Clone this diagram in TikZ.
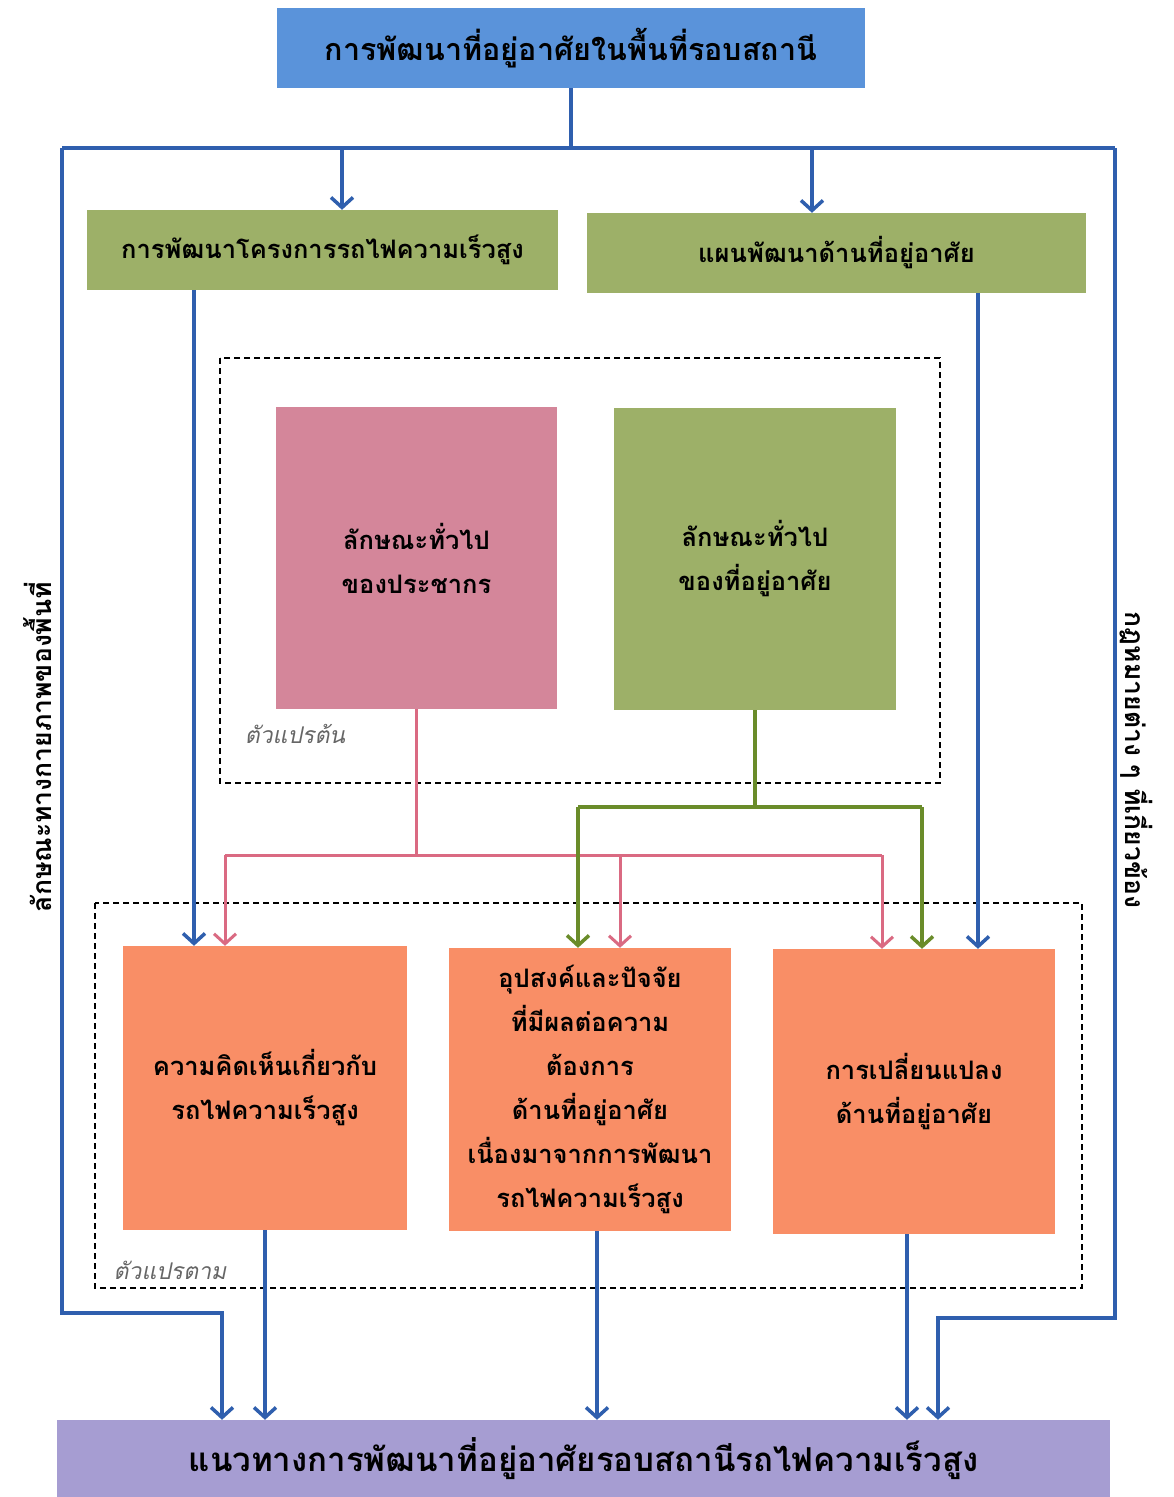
\documentclass[tikz,border=0pt]{standalone}
\usepackage{fontspec}
\usetikzlibrary{arrows.meta}
\newfontfamily\thai[Script=Thai,AutoFakeSlant=0.2]{Loma}
\definecolor{cblue}{HTML}{5A93DA}
\definecolor{cgreen}{HTML}{9DB068}
\definecolor{cpink}{HTML}{D4869A}
\definecolor{corange}{HTML}{F98E66}
\definecolor{cpurple}{HTML}{A69DD2}
\definecolor{lblue}{HTML}{2F5FAE}
\definecolor{lpink}{HTML}{DA6A82}
\definecolor{lgreen}{HTML}{6A8C2A}
\begin{document}
\begin{tikzpicture}[x=1pt,y=-1pt,
  box/.style={inner sep=0pt, align=center, text=black, font=\thai\bfseries\fontsize{25.5}{44}\selectfont},
  tip/.style={-{Straight Barb[length=10pt 0,width=22pt 0]}},
  bl/.style={draw=lblue, line width=3.5pt},
  pl/.style={draw=lpink, line width=3pt},
  gln/.style={draw=lgreen, line width=3.5pt},
  dbox/.style={draw=black, line width=1.8pt, dash pattern=on 6pt off 4pt},
  vlabel/.style={font=\thai\itshape\fontsize{23}{26}\selectfont, text=black!60},
  side/.style={font=\thai\bfseries\fontsize{26.5}{30}\selectfont, text=black}]
\useasboundingbox (0,0) rectangle (1174,1497);
\fill[white] (0,0) rectangle (1174,1497);

% dashed containers
\draw[dbox] (220,358) rectangle (940,783);
\draw[dbox] (95,903) rectangle (1082,1288);

% nodes
\node[box, fill=cblue, minimum width=588pt, minimum height=80pt, font=\thai\bfseries\fontsize{30.5}{34}\selectfont] (top) at (571,48) {การพัฒนาที่อยู่อาศัยในพื้นที่รอบสถานี};
\node[box, fill=cgreen, minimum width=471pt, minimum height=80pt] (gl) at (322.5,250) {การพัฒนาโครงการรถไฟความเร็วสูง};
\node[box, fill=cgreen, minimum width=499pt, minimum height=80pt] (gr) at (836.5,253) {แผนพัฒนาด้านที่อยู่อาศัย};
\node[box, fill=cpink, minimum width=281pt, minimum height=302pt] (pk) at (416.5,558) {ลักษณะทั่วไป\\ของประชากร};
\node[box, fill=cgreen, minimum width=282pt, minimum height=302pt] (g2) at (755,559) {ลักษณะทั่วไป\\ของที่อยู่อาศัย};
\node[box, fill=corange, minimum width=284pt, minimum height=284pt] (o1) at (265,1088) {ความคิดเห็นเกี่ยวกับ\\รถไฟความเร็วสูง};
\node[box, fill=corange, minimum width=282pt, minimum height=283pt] (o2) at (590,1089.5) {อุปสงค์และปัจจัย\\ที่มีผลต่อความ\\ต้องการ\\ด้านที่อยู่อาศัย\\เนื่องมาจากการพัฒนา\\รถไฟความเร็วสูง};
\node[box, fill=corange, minimum width=282pt, minimum height=285pt] (o3) at (914,1091.5) {การเปลี่ยนแปลง\\ด้านที่อยู่อาศัย};
\node[box, fill=cpurple, minimum width=1053pt, minimum height=78pt, font=\thai\bfseries\fontsize{33}{36}\selectfont] (bot) at (583.5,1459) {แนวทางการพัฒนาที่อยู่อาศัยรอบสถานีรถไฟความเร็วสูง};

\node[vlabel] (lt1) at (295,734) {ตัวแปรต้น};
\node[vlabel] (lt2) at (170,1270) {ตัวแปรตาม};
\node[side, rotate=90] (sl) at (38,747) {ลักษณะทางกายภาพของพื้นที่};
\node[side, rotate=-90] (sr) at (1136,760) {กฎหมายต่าง ๆ ที่เกี่ยวข้อง};

% coordinates
\coordinate (tj) at (571,148);
\coordinate (tl) at (62,148);
\coordinate (tr) at (1115,148);
\coordinate (a1) at (342,148);
\coordinate (a2) at (812,148);
\coordinate (lc) at (222,1313);
\coordinate (rc) at (938,1318);
\coordinate (x194) at (194,0);
\coordinate (x978) at (978,0);
\coordinate (x597) at (597,0);
\coordinate (x907) at (907,0);
\coordinate (pj) at (416.5,855);
\coordinate (p1) at (225,855);
\coordinate (p2) at (620,855);
\coordinate (p3) at (882,855);
\coordinate (gj) at (755,807);
\coordinate (g1) at (578,807);
\coordinate (g3) at (922,807);

% blue connectors
\draw[bl] (top.south) -- (tj);
\draw[bl] (tl) -- (tr);
\draw[bl,tip] (a1) -- (a1 |- gl.north);
\draw[bl,tip] (a2) -- (a2 |- gr.north);
\draw[bl,tip] (tl) |- (lc) -- (lc |- bot.north);
\draw[bl,tip] (tr) |- (rc) -- (rc |- bot.north);
\draw[bl,tip] (x194 |- gl.south) -- (x194 |- o1.north);
\draw[bl,tip] (x978 |- gr.south) -- (x978 |- o3.north);
\draw[bl,tip] (o1.south) -- (o1.south |- bot.north);
\draw[bl,tip] (x597 |- o2.south) -- (x597 |- bot.north);
\draw[bl,tip] (x907 |- o3.south) -- (x907 |- bot.north);

% pink connectors
\draw[pl] (pk.south) -- (pj);
\draw[pl] (p1) -- (p3);
\draw[pl,tip] (p1) -- (p1 |- o1.north);
\draw[pl,tip] (p2) -- (p2 |- o2.north);
\draw[pl,tip] (p3) -- (p3 |- o3.north);

% green connectors
\draw[gln] (g2.south) -- (gj);
\draw[gln] (g1) -- (g3);
\draw[gln,tip] (g1) -- (g1 |- o2.north);
\draw[gln,tip] (g3) -- (g3 |- o3.north);
\end{tikzpicture}
\end{document}
